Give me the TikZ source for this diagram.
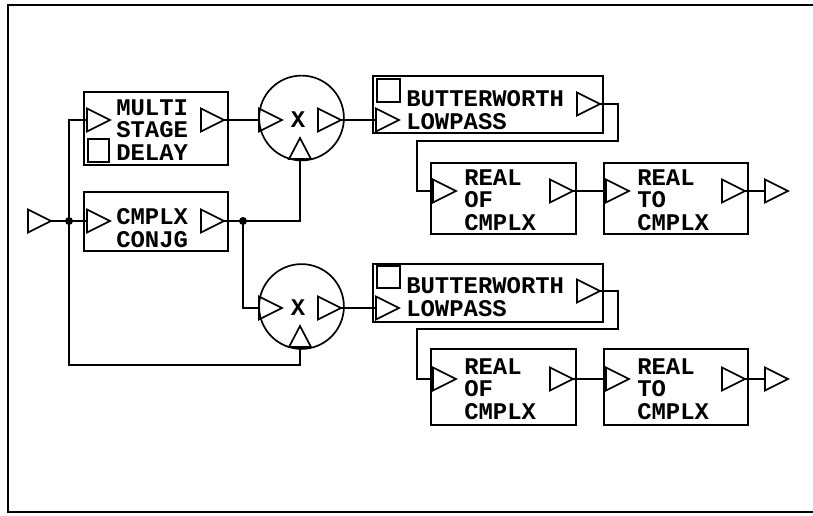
\documentclass[tikz,border=0pt]{standalone}
\usepackage{fontspec}
\newfontfamily\lbfont{Liberation Mono}
\usetikzlibrary{fit}
\tikzset{
  wire/.style={line width=1.2pt},
  blk/.style={draw, line width=1.2pt, inner sep=0pt},
  mult/.style={draw, circle, line width=1.2pt, inner sep=0pt, minimum size=2.12cm},
  dot/.style={circle, fill=black, inner sep=0pt, minimum size=0.2cm},
  lbl/.style={anchor=west, inner sep=0pt, align=left, font=\lbfont\bfseries\fontsize{17}{16}\selectfont},
  xlbl/.style={inner sep=0pt, font=\lbfont\bfseries\fontsize{17}{16}\selectfont},
  tri/.pic={\draw[line width=1.2pt] (0,-11.5) -- (23,0) -- (0,11.5) -- cycle;
            \coordinate (-tip) at (23,0); \coordinate (-base) at (0,0);},
  triu/.pic={\draw[line width=1.2pt] (-11,0) -- (0,-21) -- (11,0) -- cycle;
            \coordinate (-base) at (0,0);}
}
\begin{document}
\begin{tikzpicture}[x=0.025cm, y=-0.025cm]
\useasboundingbox (0,0) rectangle (813,515);
% frame
\draw[line width=1.2pt] (815,5) -- (8,5) -- (8,512) -- (815,512);

% input
\pic (in) at (28,221) {tri};
\node[dot] (j1) at (69,221) {};

% multi stage delay
\node[blk, fit={(84,92) (228,165)}] (msd) {};
\pic (msdi) at (87,120) {tri};
\pic (msdo) at (201,120) {tri};
\node[blk, fit={(88,139) (109,162)}] (msdsq) {};
\node[lbl] (msdt) at (116,130) {MULTI\\STAGE\\DELAY};

% cmplx conjg
\node[blk, fit={(84,192) (228,251)}] (cc) {};
\pic (cci) at (87,221) {tri};
\pic (cco) at (201,221) {tri};
\node[lbl] (cct) at (116,228) {CMPLX\\CONJG};
\node[dot] (j2) at (243,221) {};

% multiplier 1
\node[mult] (m1) at (301.5,118) {};
\pic (m1i) at (259,120) {tri};
\pic (m1o) at (318,120) {tri};
\pic (m1b) at (300,159) {triu};
\node[xlbl] (m1x) at (298,120) {X};

% multiplier 2
\node[mult] (m2) at (301.5,306.5) {};
\pic (m2i) at (259,308) {tri};
\pic (m2o) at (318,308) {tri};
\pic (m2b) at (300,347) {triu};
\node[xlbl] (m2x) at (298,308) {X};

% butterworth 1
\node[blk, fit={(373,76) (603,133)}] (bw1) {};
\node[blk, fit={(377,79) (400,102)}] (bw1sq) {};
\pic (bw1i) at (376,120) {tri};
\pic (bw1o) at (577,104) {tri};
\node[lbl] (bw1t) at (406,110) {BUTTERWORTH\\LOWPASS};

% butterworth 2
\node[blk, fit={(373,264) (603,322)}] (bw2) {};
\node[blk, fit={(377,266) (400,288)}] (bw2sq) {};
\pic (bw2i) at (376,308) {tri};
\pic (bw2o) at (577,291) {tri};
\node[lbl] (bw2t) at (406,297) {BUTTERWORTH\\LOWPASS};

% real of cmplx 1
\node[blk, fit={(431,163) (576,234)}] (ro1) {};
\pic (ro1i) at (433,191) {tri};
\pic (ro1o) at (550,191) {tri};
\node[lbl] (ro1t) at (464,200) {REAL\\OF\\CMPLX};

% real to cmplx 1
\node[blk, fit={(604,163) (748,234)}] (rt1) {};
\pic (rt1i) at (606,191) {tri};
\pic (rt1o) at (722,191) {tri};
\node[lbl] (rt1t) at (637,200) {REAL\\TO\\CMPLX};
\pic (out1) at (765,191) {tri};

% real of cmplx 2
\node[blk, fit={(431,349) (576,425)}] (ro2) {};
\pic (ro2i) at (433,379) {tri};
\pic (ro2o) at (550,379) {tri};
\node[lbl] (ro2t) at (464,389) {REAL\\OF\\CMPLX};

% real to cmplx 2
\node[blk, fit={(604,349) (748,425)}] (rt2) {};
\pic (rt2i) at (606,379) {tri};
\pic (rt2o) at (722,379) {tri};
\node[lbl] (rt2t) at (637,389) {REAL\\TO\\CMPLX};
\pic (out2) at (765,379) {tri};

% routing coordinates
\coordinate (lowbus) at (69,365);
\coordinate (r1a) at (618,141);
\coordinate (r1b) at (417,141);
\coordinate (r2a) at (618,329);
\coordinate (r2b) at (417,329);

% wires
\draw[wire] (in-tip) -- (cci-base);
\draw[wire] (m2b-base) |- (lowbus) |- (msdi-base);
\draw[wire] (msdo-tip) -- (m1i-base);
\draw[wire] (m1o-tip) -- (bw1i-base);
\draw[wire] (cco-tip) -- (j2.center);
\draw[wire] (j2.center) -| (m1b-base);
\draw[wire] (j2.center) |- (m2i-base);
\draw[wire] (m2o-tip) -- (bw2i-base);
\draw[wire] (bw1o-tip) -| (r1a) -- (r1b) |- (ro1i-base);
\draw[wire] (bw2o-tip) -| (r2a) -- (r2b) |- (ro2i-base);
\draw[wire] (ro1o-tip) -- (rt1i-base);
\draw[wire] (rt1o-tip) -- (out1-base);
\draw[wire] (ro2o-tip) -- (rt2i-base);
\draw[wire] (rt2o-tip) -- (out2-base);
\end{tikzpicture}
\end{document}
